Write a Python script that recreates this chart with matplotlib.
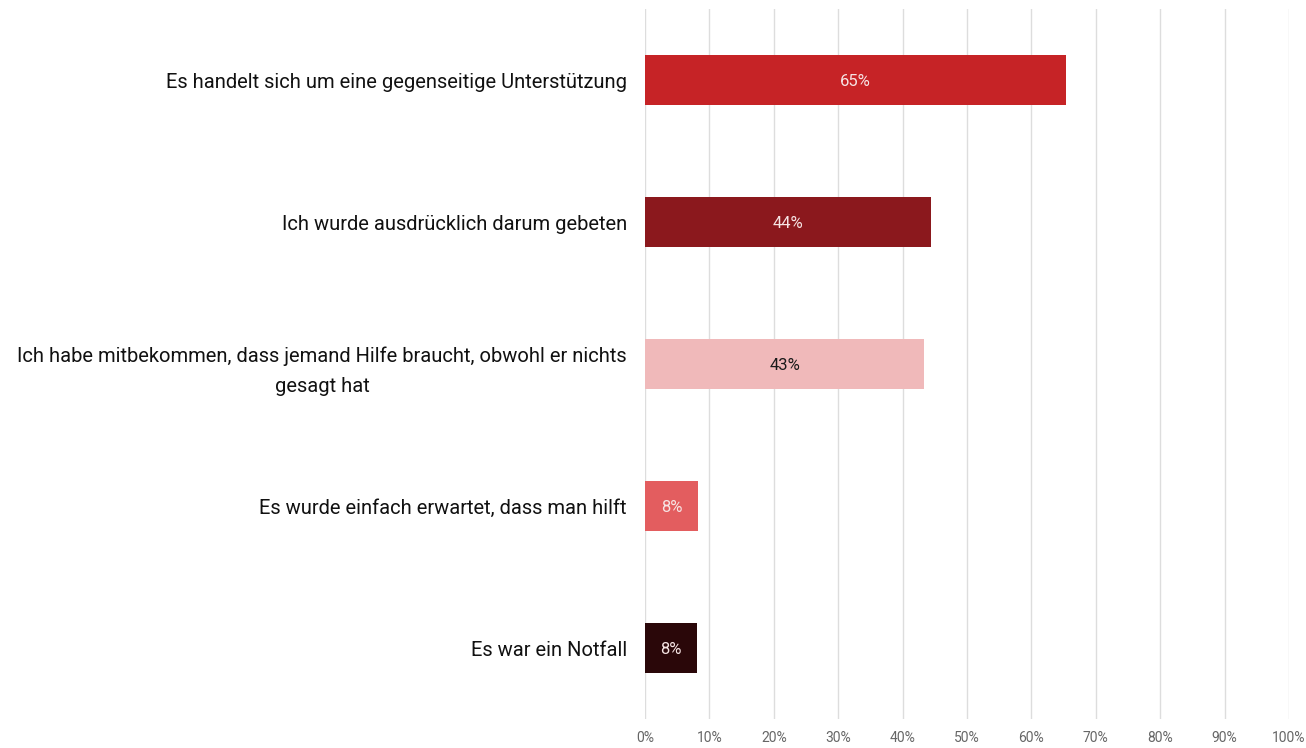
import matplotlib.pyplot as plt
from matplotlib.ticker import FuncFormatter

categories = [
    "Es handelt sich um eine gegenseitige Unterstützung",
    "Ich wurde ausdrücklich darum gebeten",
    "Ich habe mitbekommen, dass jemand Hilfe braucht, obwohl er nichts\ngesagt hat",
    "Es wurde einfach erwartet, dass man hilft",
    "Es war ein Notfall",
]
values = [65.4, 44.4, 43.4, 8.2, 8.1]
bar_colors = ["#C62326", "#8B181D", "#F0B9BA", "#E35D5F", "#2A0709"]
label_colors = ["#F6E4E4", "#F6E4E4", "#1A1A1A", "#F6E4E4", "#F6E4E4"]
ticks = list(range(0, 101, 10))

plt.rcParams['font.family'] = ['Roboto', 'DejaVu Sans']

fig = plt.figure(figsize=(13.06, 7.48), dpi=100)
ax = fig.add_axes([645 / 1306, 1 - 719 / 748, 644 / 1306, 710 / 748])

ypos = list(range(len(categories)))
ax.barh(ypos, values, height=0.35, color=bar_colors, zorder=3)
for y, v, c in zip(ypos, values, label_colors):
    ax.text(v / 2, y, f"{v:.0f}%", ha='center', va='center_baseline',
            color=c, fontsize=12, zorder=4)

ax.set_ylim(len(categories) - 0.5, -0.5)
ax.set_xlim(0, 100)
ax.set_xticks(ticks)
ax.xaxis.set_major_formatter(FuncFormatter(lambda x, _: f"{x:.0f}%"))
ax.set_yticks(ypos)
ax.set_yticklabels(categories, fontsize=14.5, color="#111111", ha='right',
                   multialignment='center', linespacing=1.7)

ax.grid(axis='x', color='#DDDDDD', linewidth=1.0, zorder=0)
for s in ax.spines.values():
    s.set_visible(False)
ax.tick_params(axis='x', length=0, pad=9, labelsize=10, labelcolor='#666666')
ax.tick_params(axis='y', length=0, pad=13)

fig.savefig("out.png", dpi=100)
